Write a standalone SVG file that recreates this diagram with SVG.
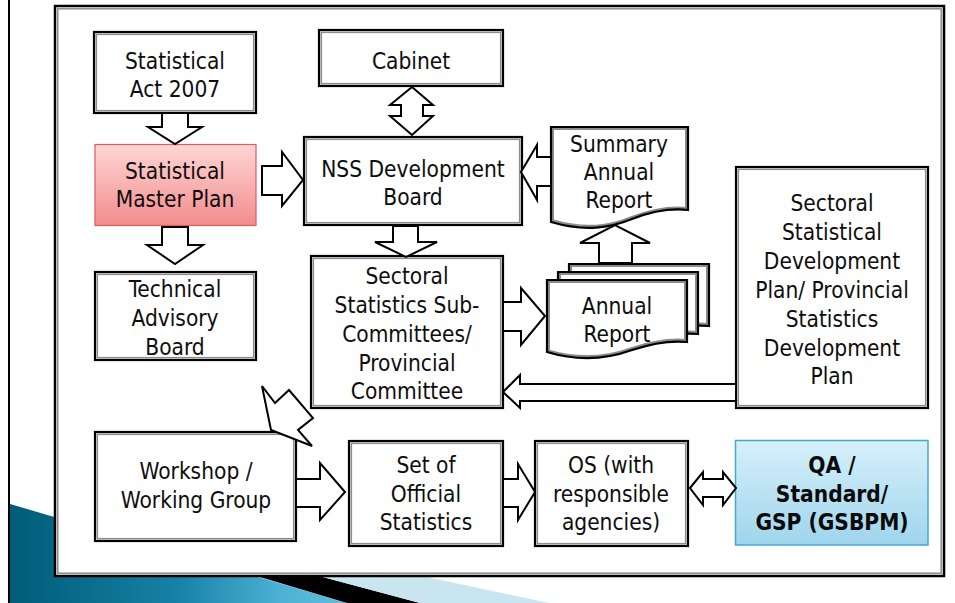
<svg xmlns="http://www.w3.org/2000/svg" xmlns:xlink="http://www.w3.org/1999/xlink" width="955" height="603" viewBox="0 0 955 603">
<style>
.bo{fill:#fff;stroke:#000;stroke-width:2.2}
.bi{fill:none;stroke:#8c8c8c;stroke-width:1.6}
.df{fill:#fff;stroke:none}
.dg{fill:none;stroke:#8c8c8c;stroke-width:6}
.dk{fill:none;stroke:#000;stroke-width:2.2}
.ar{fill:#fff;stroke:#000;stroke-width:2;stroke-linejoin:miter}
.t{font-family:'DejaVu Sans Condensed','DejaVu Sans',sans-serif;font-size:22.5px;fill:#0d0d0d;text-anchor:middle}
.tb{font-weight:bold;fill:#0a0a0a}
</style>
<defs>
<linearGradient id="teal" gradientUnits="userSpaceOnUse" x1="10" y1="0" x2="347" y2="0">
<stop offset="0" stop-color="#005b78"/>
<stop offset="0.5" stop-color="#1782a6"/>
<stop offset="0.8" stop-color="#4cb1d4"/>
<stop offset="1" stop-color="#62bddc"/>
</linearGradient>
<linearGradient id="red" x1="0" y1="0" x2="0" y2="1">
<stop offset="0" stop-color="#ffd6d6"/>
<stop offset="1" stop-color="#f28c8c"/>
</linearGradient>
<linearGradient id="blue" x1="0" y1="0" x2="0" y2="1">
<stop offset="0" stop-color="#d6f0fb"/>
<stop offset="1" stop-color="#9fd5ec"/>
</linearGradient>
<path id="dS" d="M551,127 H688 V210 C670,208 650,212 632,219 C610,228 585,232 551,222 Z"/>
<path id="dA" d="M547,280 H687 V342 C668,340 650,344 632,350 C610,358 580,362 547,352 Z"/>
<clipPath id="cS"><use xlink:href="#dS"/></clipPath>
<clipPath id="cA"><use xlink:href="#dA"/></clipPath>
</defs>
<rect width="955" height="603" fill="#fff"/>
<g id="background">
<polygon points="10,504 347,603 10,603" fill="url(#teal)"/>
<polygon points="230,568 347,603 420,603 289,568" fill="#000"/>
<polygon points="289,568 420,603 549,603 385,568" fill="#c9e5ef"/>
<line x1="9" y1="0" x2="9" y2="603" stroke="#000" stroke-width="2"/>
<rect x="55" y="6" width="889" height="570" fill="#fff" stroke="#000" stroke-width="2.5"/>
<rect x="57.8" y="8.8" width="883.4" height="564.4" fill="none" stroke="#8c8c8c" stroke-width="1.5"/>
</g>
<g id="act">
<rect class="bo" x="94" y="32" width="162" height="81"/><rect class="bi" x="96.3" y="34.3" width="157.4" height="76.4"/>
<text class="t" x="175" y="69">Statistical</text><text class="t" x="175" y="97">Act 2007</text>
</g>
<g id="masterplan">
<rect x="95" y="144.5" width="161" height="81" fill="url(#red)" stroke="#e25b5b" stroke-width="1.2"/>
<text class="t" x="175" y="179">Statistical</text><text class="t" x="175" y="207">Master Plan</text>
</g>
<g id="technical">
<rect class="bo" x="95" y="272" width="161" height="88"/><rect class="bi" x="97.3" y="274.3" width="156.4" height="83.4"/>
<text class="t" x="175" y="297">Technical</text><text class="t" x="175" y="326">Advisory</text><text class="t" x="175" y="355">Board</text>
</g>
<g id="cabinet">
<rect class="bo" x="319" y="30" width="184" height="56"/><rect class="bi" x="321.3" y="32.3" width="179.4" height="51.4"/>
<text class="t" x="411" y="69">Cabinet</text>
</g>
<g id="nss">
<rect class="bo" x="304" y="137" width="218" height="88"/><rect class="bi" x="306.3" y="139.3" width="213.4" height="83.4"/>
<text class="t" x="413" y="177">NSS Development</text><text class="t" x="413" y="205">Board</text>
</g>
<g id="summary">
<use xlink:href="#dS" class="df"/><use xlink:href="#dS" class="dg" clip-path="url(#cS)"/><use xlink:href="#dS" class="dk"/>
<text class="t" x="619" y="152">Summary</text><text class="t" x="619" y="180">Annual</text><text class="t" x="619" y="208">Report</text>
</g>
<g id="committees">
<rect class="bo" x="311" y="256" width="192" height="152"/><rect class="bi" x="313.3" y="258.3" width="187.4" height="147.4"/>
<text class="t" x="407" y="284">Sectoral</text><text class="t" x="407" y="313">Statistics Sub-</text><text class="t" x="407" y="342">Committees/</text><text class="t" x="407" y="371">Provincial</text><text class="t" x="407" y="399">Committee</text>
</g>
<g id="annualreport">
<g transform="translate(22,-16)"><use xlink:href="#dA" class="df"/><use xlink:href="#dA" class="dg" clip-path="url(#cA)"/><use xlink:href="#dA" class="dk"/></g>
<g transform="translate(11,-8)"><use xlink:href="#dA" class="df"/><use xlink:href="#dA" class="dg" clip-path="url(#cA)"/><use xlink:href="#dA" class="dk"/></g>
<use xlink:href="#dA" class="df"/><use xlink:href="#dA" class="dg" clip-path="url(#cA)"/><use xlink:href="#dA" class="dk"/>
<text class="t" x="617" y="314">Annual</text><text class="t" x="617" y="342">Report</text>
</g>
<g id="sectoralplan">
<rect class="bo" x="736" y="167" width="192" height="241"/><rect class="bi" x="738.3" y="169.3" width="187.4" height="236.4"/>
<text class="t" x="832" y="211">Sectoral</text><text class="t" x="832" y="240">Statistical</text><text class="t" x="832" y="269">Development</text><text class="t" x="832" y="298">Plan/ Provincial</text><text class="t" x="832" y="327">Statistics</text><text class="t" x="832" y="356">Development</text><text class="t" x="832" y="384">Plan</text>
</g>
<g id="workshop">
<rect class="bo" x="95" y="432" width="201" height="109"/><rect class="bi" x="97.3" y="434.3" width="196.4" height="104.4"/>
<text class="t" x="196" y="479">Workshop /</text><text class="t" x="196" y="508">Working Group</text>
</g>
<g id="officialstats">
<rect class="bo" x="349" y="441" width="154" height="105"/><rect class="bi" x="351.3" y="443.3" width="149.4" height="100.4"/>
<text class="t" x="426" y="473">Set of</text><text class="t" x="426" y="502">Official</text><text class="t" x="426" y="530">Statistics</text>
</g>
<g id="os">
<rect class="bo" x="535" y="441" width="153" height="105"/><rect class="bi" x="537.3" y="443.3" width="148.4" height="100.4"/>
<text class="t" x="611" y="473">OS (with</text><text class="t" x="611" y="502">responsible</text><text class="t" x="611" y="530">agencies)</text>
</g>
<g id="qa">
<rect x="735.5" y="440.5" width="192.5" height="104.5" fill="url(#blue)" stroke="#45a9cb" stroke-width="1.5"/>
<text class="t tb" x="832" y="473">QA /</text><text class="t tb" x="832" y="502">Standard/</text><text class="t tb" x="832" y="530">GSP (GSBPM)</text>
</g>
<g id="connectors">
<polygon class="ar" points="162,113 188,113 188,127 202,127 175,144 148,127 162,127"/>
<polygon class="ar" points="162,227 188,227 188,245 203,245 175,264 147,245 162,245"/>
<polygon class="ar" points="262,166 282,166 282,152 303,180 282,206 282,195 262,195"/>
<polygon class="ar" points="412,87 433,105 423,105 423,116 433,116 412,135 390,116 401,116 401,105 390,105"/>
<polygon class="ar" points="521,172 537,145 537,157 551,157 551,186 537,186 537,200"/>
<polygon class="ar" points="393,226 418,226 418,242 437,242 406,257 375,242 393,242"/>
<polygon class="ar" points="599,263 599,243 580,243 615,225 650,243 632,243 632,263"/>
<polygon class="ar" points="503,302 521,302 521,288 545,316 521,345 521,331 503,331"/>
<polygon class="ar" points="503,392 520,375 520,384 736,384 736,401 520,401 520,408"/>
<polygon class="ar" points="296,479 320,479 320,463 345,492 320,520 320,507 296,507"/>
<polygon class="ar" points="503,479 518,479 518,464 535,492 518,520 518,507 503,507"/>
<polygon class="ar" points="690,488 703,472 703,479 723,479 723,472 736,488 723,505 723,497 703,497 703,505"/>
<polygon class="ar" points="271,430 262,386 275,403 289,390 313,418 298,430 312,446"/>
</g>
</svg>
